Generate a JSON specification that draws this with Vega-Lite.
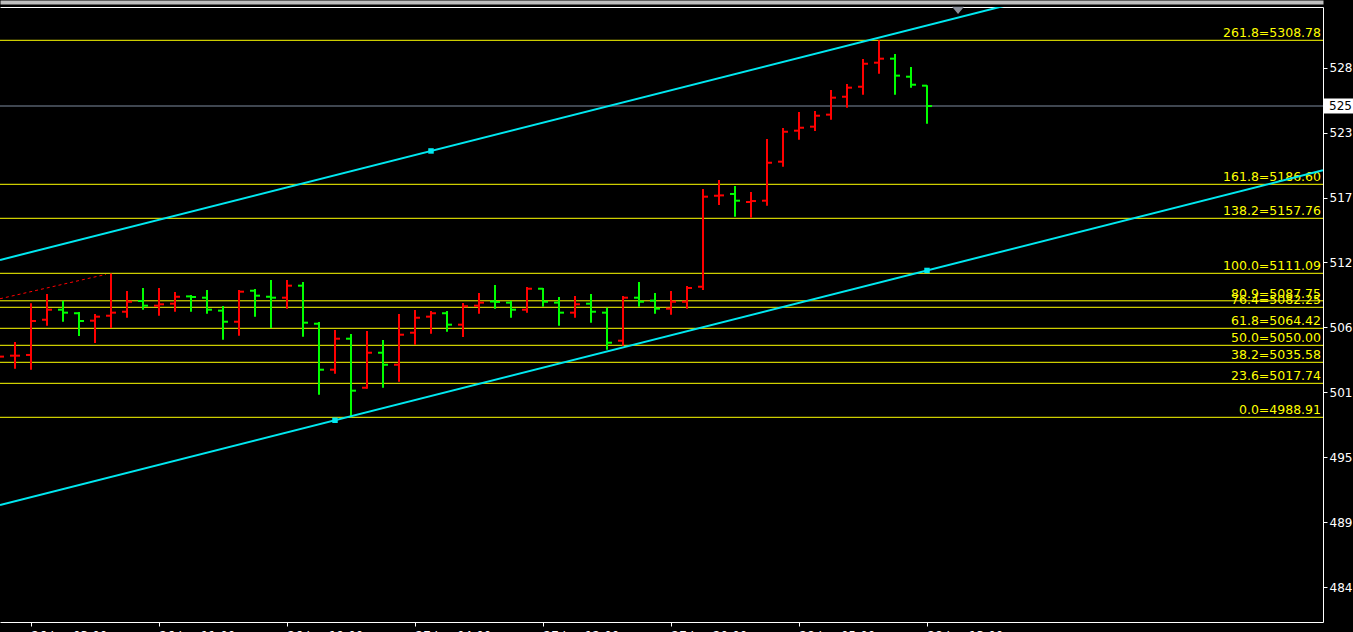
{
  "$schema": "https://vega.github.io/schema/vega-lite/v6.json",
  "autosize": "none",
  "width": 1323,
  "height": 615,
  "padding": {"left": 0, "top": 7, "right": 30, "bottom": 10},
  "background": "#000000",
  "config": {
    "view": {"stroke": null},
    "axis": {"grid": false, "labelFont": "DejaVu Sans", "labelFontSize": 12, "labelColor": "#ffffff", "tickColor": "#ffffff", "domainColor": "#ffffff"}
  },
  "datasets": {
    "bars": [
      {"i": -1, "o": 5040.3, "h": 5046.0, "l": 5035.8, "c": 5040.4},
      {"i": 0, "o": 5041.2, "h": 5052.8, "l": 5030.2, "c": 5041.2},
      {"i": 1, "o": 5041.8, "h": 5085.6, "l": 5029.3, "c": 5070.6},
      {"i": 2, "o": 5071.7, "h": 5093.5, "l": 5066.6, "c": 5080.2},
      {"i": 3, "o": 5080.2, "h": 5087.9, "l": 5070.0, "c": 5077.7},
      {"i": 4, "o": 5077.2, "h": 5078.3, "l": 5057.9, "c": 5070.6},
      {"i": 5, "o": 5070.9, "h": 5076.6, "l": 5052.0, "c": 5074.3},
      {"i": 6, "o": 5075.1, "h": 5111.0, "l": 5064.7, "c": 5077.7},
      {"i": 7, "o": 5078.5, "h": 5096.1, "l": 5073.4, "c": 5087.0},
      {"i": 8, "o": 5087.6, "h": 5098.6, "l": 5080.2, "c": 5083.6},
      {"i": 9, "o": 5083.6, "h": 5098.6, "l": 5075.1, "c": 5084.8},
      {"i": 10, "o": 5085.3, "h": 5095.2, "l": 5078.5, "c": 5091.2},
      {"i": 11, "o": 5091.5, "h": 5092.7, "l": 5078.5, "c": 5091.0},
      {"i": 12, "o": 5090.4, "h": 5096.9, "l": 5076.8, "c": 5080.2},
      {"i": 13, "o": 5079.4, "h": 5083.4, "l": 5054.8, "c": 5070.0},
      {"i": 14, "o": 5070.0, "h": 5096.9, "l": 5058.2, "c": 5095.5},
      {"i": 15, "o": 5096.3, "h": 5097.8, "l": 5074.3, "c": 5092.1},
      {"i": 16, "o": 5091.2, "h": 5105.4, "l": 5064.7, "c": 5090.4},
      {"i": 17, "o": 5090.4, "h": 5105.4, "l": 5081.1, "c": 5100.6},
      {"i": 18, "o": 5100.6, "h": 5103.7, "l": 5057.3, "c": 5069.2},
      {"i": 19, "o": 5068.3, "h": 5069.8, "l": 5008.1, "c": 5029.3},
      {"i": 20, "o": 5029.3, "h": 5063.0, "l": 5025.9, "c": 5055.6},
      {"i": 21, "o": 5055.6, "h": 5059.6, "l": 4988.91, "c": 5011.5},
      {"i": 22, "o": 5014.0, "h": 5062.1, "l": 5013.2, "c": 5043.7},
      {"i": 23, "o": 5043.7, "h": 5054.5, "l": 5014.0, "c": 5033.5},
      {"i": 24, "o": 5033.5, "h": 5076.6, "l": 5019.1, "c": 5059.0},
      {"i": 25, "o": 5060.7, "h": 5080.0, "l": 5050.5, "c": 5073.4},
      {"i": 26, "o": 5074.3, "h": 5079.1, "l": 5059.8, "c": 5077.2},
      {"i": 27, "o": 5077.2, "h": 5079.1, "l": 5061.5, "c": 5067.5},
      {"i": 28, "o": 5067.5, "h": 5085.9, "l": 5057.0, "c": 5083.1},
      {"i": 29, "o": 5083.6, "h": 5094.4, "l": 5076.8, "c": 5086.2},
      {"i": 30, "o": 5087.2, "h": 5101.2, "l": 5081.1, "c": 5086.8},
      {"i": 31, "o": 5086.2, "h": 5087.9, "l": 5073.4, "c": 5080.2},
      {"i": 32, "o": 5080.2, "h": 5099.5, "l": 5077.7, "c": 5098.0},
      {"i": 33, "o": 5098.0, "h": 5098.6, "l": 5082.8, "c": 5087.0},
      {"i": 34, "o": 5086.2, "h": 5091.0, "l": 5066.6, "c": 5077.7},
      {"i": 35, "o": 5077.7, "h": 5091.8, "l": 5073.4, "c": 5084.8},
      {"i": 36, "o": 5085.3, "h": 5093.5, "l": 5069.2, "c": 5078.5},
      {"i": 37, "o": 5077.7, "h": 5081.9, "l": 5046.3, "c": 5052.2},
      {"i": 38, "o": 5053.9, "h": 5091.8, "l": 5049.7, "c": 5090.4},
      {"i": 39, "o": 5090.4, "h": 5103.7, "l": 5082.8, "c": 5087.0},
      {"i": 40, "o": 5087.9, "h": 5094.4, "l": 5076.8, "c": 5081.1},
      {"i": 41, "o": 5081.1, "h": 5096.1, "l": 5076.0, "c": 5087.0},
      {"i": 42, "o": 5087.0, "h": 5100.3, "l": 5081.1, "c": 5098.6},
      {"i": 43, "o": 5099.7, "h": 5182.6, "l": 5096.9, "c": 5176.1},
      {"i": 44, "o": 5176.9, "h": 5190.3, "l": 5169.0, "c": 5177.2},
      {"i": 45, "o": 5178.4, "h": 5185.2, "l": 5159.1, "c": 5172.7},
      {"i": 46, "o": 5171.6, "h": 5180.1, "l": 5158.3, "c": 5172.4},
      {"i": 47, "o": 5172.7, "h": 5225.0, "l": 5168.5, "c": 5204.9},
      {"i": 48, "o": 5205.8, "h": 5234.4, "l": 5201.5, "c": 5231.2},
      {"i": 49, "o": 5232.1, "h": 5248.0, "l": 5224.5, "c": 5234.6},
      {"i": 50, "o": 5235.5, "h": 5248.8, "l": 5231.8, "c": 5244.8},
      {"i": 51, "o": 5245.7, "h": 5266.6, "l": 5241.4, "c": 5260.1},
      {"i": 52, "o": 5260.9, "h": 5271.7, "l": 5251.6, "c": 5268.6},
      {"i": 53, "o": 5269.4, "h": 5292.9, "l": 5262.6, "c": 5288.9},
      {"i": 54, "o": 5289.8, "h": 5308.78, "l": 5280.5, "c": 5293.2},
      {"i": 55, "o": 5293.2, "h": 5297.2, "l": 5262.6, "c": 5278.8},
      {"i": 56, "o": 5277.9, "h": 5286.1, "l": 5268.6, "c": 5271.1},
      {"i": 57, "o": 5270.3, "h": 5270.6, "l": 5238.0, "c": 5253.0}
    ],
    "fib": [
      {"label": "261.8=5308.78", "p": 5308.78},
      {"label": "161.8=5186.60", "p": 5186.60},
      {"label": "138.2=5157.76", "p": 5157.76},
      {"label": "100.0=5111.09", "p": 5111.09},
      {"label": "80.9=5087.75", "p": 5087.75},
      {"label": "76.4=5082.25", "p": 5082.25},
      {"label": "61.8=5064.42", "p": 5064.42},
      {"label": "50.0=5050.00", "p": 5050.00},
      {"label": "38.2=5035.58", "p": 5035.58},
      {"label": "23.6=5017.74", "p": 5017.74},
      {"label": "0.0=4988.91", "p": 4988.91}
    ],
    "channel": [
      {"line": "upper", "i": -0.9375, "p": 5122.4},
      {"line": "upper", "i": 81.75, "p": 5406.4},
      {"line": "lower", "i": -0.9375, "p": 4914.5},
      {"line": "lower", "i": 81.75, "p": 5198.5}
    ],
    "anchors": [
      {"i": 26, "p": 5214.9},
      {"i": 20, "p": 4986.4},
      {"i": 57, "p": 5113.5}
    ],
    "zigzag": [
      {"i": -0.9375, "p": 5089.5},
      {"i": 5.69, "p": 5110.2}
    ],
    "current": [{"p": 5253.04}],
    "marker": [{"i": 58.94, "p": 5334.1}]
  },
  "resolve": {"axis": {"x": "independent", "y": "independent"}},
  "layer": [
    {
      "data": {"name": "current"},
      "mark": {"type": "rule", "color": "#7f8ca0", "strokeWidth": 1},
      "encoding": {
        "y": {
          "field": "p", "type": "quantitative",
          "scale": {"domain": [4815.23, 5337.04], "nice": false, "zero": false},
          "axis": null
        }
      }
    },
    {
      "data": {"name": "fib"},
      "mark": {"type": "rule", "color": "#ffff00", "strokeWidth": 1},
      "encoding": {
        "y": {"field": "p", "type": "quantitative", "scale": {"domain": [4815.23, 5337.04], "nice": false, "zero": false}, "axis": null}
      }
    },
    {
      "data": {"name": "fib"},
      "mark": {"type": "text", "align": "right", "baseline": "alphabetic", "dx": -2, "dy": -3, "font": "DejaVu Sans", "fontSize": 12.5, "color": "#ffff00"},
      "encoding": {
        "x": {"datum": 81.75, "type": "quantitative", "scale": {"domain": [-0.9375, 81.75], "nice": false, "zero": false}, "axis": null},
        "y": {"field": "p", "type": "quantitative", "scale": {"domain": [4815.23, 5337.04], "nice": false, "zero": false}, "axis": null},
        "text": {"field": "label"}
      }
    },
    {
      "data": {"name": "bars"},
      "mark": {"type": "rule", "strokeWidth": 2},
      "encoding": {
        "x": {
          "field": "i", "type": "quantitative",
          "scale": {"domain": [-0.9375, 81.75], "nice": false, "zero": false},
          "axis": {
            "orient": "bottom", "title": null,
            "values": [1, 9, 17, 25, 33, 41, 49, 57],
            "labelExpr": "['26 Jan 03:00','26 Jan 11:00','26 Jan 19:00','27 Jan 04:00','27 Jan 12:00','27 Jan 20:00','28 Jan 05:00','28 Jan 13:00'][(datum.value - 1) / 8]",
            "labelAlign": "left", "labelBaseline": "top", "labelFlush": false, "labelOverlap": false,
            "tickSize": 4, "labelPadding": 4, "labelFontSize": 12, "labelColor": "#ffffff", "domainColor": "#ffffff"
          }
        },
        "y": {
          "field": "l", "type": "quantitative",
          "scale": {"domain": [4815.23, 5337.04], "nice": false, "zero": false},
          "axis": {
            "orient": "right", "title": null,
            "values": [4844.8, 4899.9, 4955.0, 5010.1, 5065.2, 5120.3, 5175.4, 5230.5, 5285.6],
            "labelExpr": "substring(format(datum.value, '.2f'), 0, 3)",
            "labelAlign": "left", "labelBaseline": "middle", "labelFlush": false, "labelOverlap": false,
            "tickSize": 4, "labelPadding": 2, "labelFontSize": 12, "labelColor": "#ffffff", "domainColor": "#ffffff"
          }
        },
        "y2": {"field": "h"},
        "color": {"condition": {"test": "datum.c >= datum.o", "value": "#ff0000"}, "value": "#00ff00"}
      }
    },
    {
      "data": {"name": "bars"},
      "mark": {"type": "tick", "orient": "horizontal", "size": 5, "thickness": 2, "xOffset": -2.5, "opacity": 1},
      "encoding": {
        "x": {"field": "i", "type": "quantitative", "scale": {"domain": [-0.9375, 81.75], "nice": false, "zero": false}, "axis": null},
        "y": {"field": "o", "type": "quantitative", "scale": {"domain": [4815.23, 5337.04], "nice": false, "zero": false}, "axis": null},
        "color": {"condition": {"test": "datum.c >= datum.o", "value": "#ff0000"}, "value": "#00ff00"}
      }
    },
    {
      "data": {"name": "bars"},
      "mark": {"type": "tick", "orient": "horizontal", "size": 5, "thickness": 2, "xOffset": 2.5, "opacity": 1},
      "encoding": {
        "x": {"field": "i", "type": "quantitative", "scale": {"domain": [-0.9375, 81.75], "nice": false, "zero": false}, "axis": null},
        "y": {"field": "c", "type": "quantitative", "scale": {"domain": [4815.23, 5337.04], "nice": false, "zero": false}, "axis": null},
        "color": {"condition": {"test": "datum.c >= datum.o", "value": "#ff0000"}, "value": "#00ff00"}
      }
    },
    {
      "data": {"name": "channel"},
      "mark": {"type": "line", "color": "#00e8f0", "strokeWidth": 2, "clip": true},
      "encoding": {
        "x": {"field": "i", "type": "quantitative", "scale": {"domain": [-0.9375, 81.75], "nice": false, "zero": false}, "axis": null},
        "y": {"field": "p", "type": "quantitative", "scale": {"domain": [4815.23, 5337.04], "nice": false, "zero": false}, "axis": null},
        "detail": {"field": "line"}
      }
    },
    {
      "data": {"name": "zigzag"},
      "mark": {"type": "line", "color": "#ff0000", "strokeWidth": 1, "strokeDash": [3, 3], "clip": true},
      "encoding": {
        "x": {"field": "i", "type": "quantitative", "scale": {"domain": [-0.9375, 81.75], "nice": false, "zero": false}, "axis": null},
        "y": {"field": "p", "type": "quantitative", "scale": {"domain": [4815.23, 5337.04], "nice": false, "zero": false}, "axis": null}
      }
    },
    {
      "data": {"name": "anchors"},
      "mark": {"type": "point", "shape": "square", "filled": true, "size": 30, "color": "#00e8f0", "opacity": 1},
      "encoding": {
        "x": {"field": "i", "type": "quantitative", "scale": {"domain": [-0.9375, 81.75], "nice": false, "zero": false},
          "axis": {"orient": "top", "title": null, "labels": false, "ticks": false, "domainColor": "#bdbdbd", "domainWidth": 4, "offset": 5}},
        "y": {"field": "p", "type": "quantitative", "scale": {"domain": [4815.23, 5337.04], "nice": false, "zero": false}, "axis": null}
      }
    },
    {
      "data": {"name": "marker"},
      "mark": {"type": "point", "shape": "M -1 -0.6 L 1 -0.6 L 0 0.6 Z", "filled": true, "size": 144, "color": "#8a8f9a", "opacity": 1},
      "encoding": {
        "x": {"field": "i", "type": "quantitative", "scale": {"domain": [-0.9375, 81.75], "nice": false, "zero": false},
          "axis": {"orient": "top", "title": null, "labels": false, "ticks": false, "domainColor": "#ffffff", "domainWidth": 1}},
        "y": {"field": "p", "type": "quantitative", "scale": {"domain": [4815.23, 5337.04], "nice": false, "zero": false}, "axis": null}
      }
    },
    {
      "data": {"name": "current"},
      "mark": {"type": "tick", "orient": "horizontal", "size": 30, "thickness": 15, "color": "#ffffff", "opacity": 1},
      "encoding": {
        "x": {"datum": 82.75, "type": "quantitative", "scale": {"domain": [-0.9375, 81.75], "nice": false, "zero": false}, "axis": null},
        "y": {"field": "p", "type": "quantitative", "scale": {"domain": [4815.23, 5337.04], "nice": false, "zero": false}, "axis": null}
      }
    },
    {
      "data": {"name": "current"},
      "mark": {"type": "text", "align": "left", "baseline": "middle", "font": "DejaVu Sans", "fontSize": 12, "color": "#000000"},
      "encoding": {
        "x": {"datum": 82.125, "type": "quantitative", "scale": {"domain": [-0.9375, 81.75], "nice": false, "zero": false}, "axis": null},
        "y": {"field": "p", "type": "quantitative", "scale": {"domain": [4815.23, 5337.04], "nice": false, "zero": false}, "axis": null},
        "text": {"value": "525"}
      }
    }
  ]
}
